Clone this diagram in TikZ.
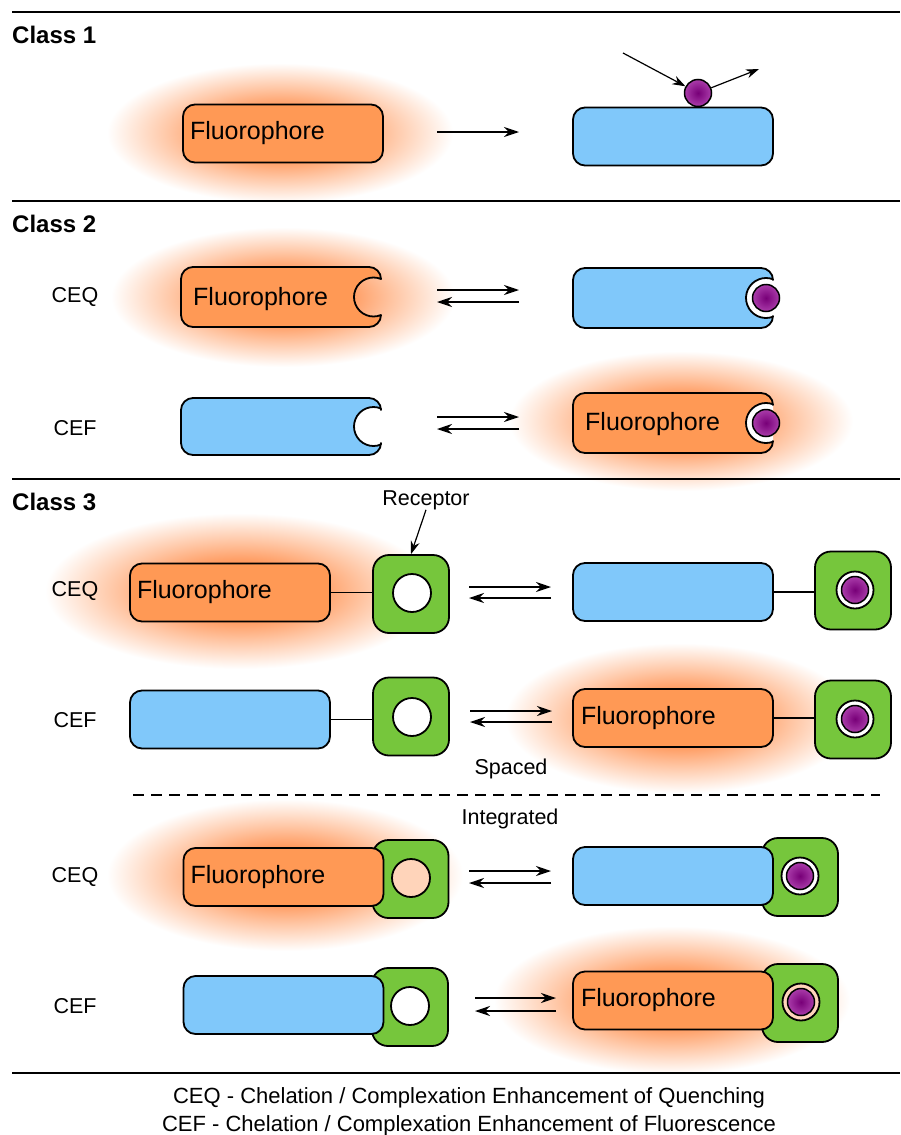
\documentclass[tikz,border=0pt]{standalone}
\usepackage{fontspec}
\setmainfont{Liberation Sans}
\usetikzlibrary{arrows.meta}
\definecolor{orbox}{RGB}{255,153,85}
\definecolor{glowc}{RGB}{255,145,80}
\definecolor{bluebox}{RGB}{128,200,250}
\definecolor{grbox}{RGB}{118,198,60}
\definecolor{iondark}{RGB}{120,0,120}
\definecolor{ionlight}{RGB}{170,60,170}
\definecolor{peach}{RGB}{255,212,186}
\pgfdeclareradialshading{glowsh}{\pgfpointorigin}{color(0bp)=(glowc); color(8bp)=(glowc); color(16bp)=(glowc!52!white); color(25bp)=(white); color(50bp)=(white)}
\pgfdeclareradialshading{ionsh}{\pgfpointorigin}{color(0bp)=(iondark); color(25bp)=(ionlight); color(50bp)=(ionlight)}
\tikzset{
  outl/.style={draw=black, line width=1.8pt},
  fluor/.style={outl, fill=orbox, rounded corners=12pt},
  quench/.style={outl, fill=bluebox, rounded corners=12pt},
  fluorp/.style={outl, fill=orbox, line join=round},
  quenchp/.style={outl, fill=bluebox, line join=round},
  bx/.style={minimum width=200pt, minimum height=58pt, text width=186pt, inner xsep=7pt, inner ysep=0pt, align=left, font=\fontsize{25}{30}\selectfont},
  recep/.style={outl, fill=grbox, rounded corners=16pt, minimum width=76pt, minimum height=78pt, inner sep=0pt},
  ion/.style={circle, draw=black, line width=1.5pt, shade, shading=ionsh, minimum size=27pt, inner sep=0pt},
  arr/.style={line width=1.3pt, -{Stealth[length=15pt,width=10pt]}},
  arrs/.style={line width=1.2pt, -{Stealth[length=13pt,width=9pt]}},
  link/.style={line width=1.6pt},
  rule/.style={line width=2pt},
  lbl/.style={font=\fontsize{21.5}{26}\selectfont, inner sep=0pt},
  ftext/.style={font=\fontsize{25}{30}\selectfont, anchor=base west, inner sep=0pt},
  title/.style={font=\bfseries\fontsize{24}{28}\selectfont, anchor=base west, inner sep=0pt},
  bottom/.style={font=\fontsize{22}{26}\selectfont, inner sep=0pt, anchor=base},
}
% notched box: #1 style, #2 x1, #3 y1, #4 x2, #5 y2, #6 notch centre x, #7 radius
\newcommand\notchbox[7]{%
  \pgfmathsetmacro\ncy{(#3+#5)/2}%
  \pgfmathsetmacro\nd{#4-#6}%
  \pgfmathsetmacro\nh{sqrt((#7)*(#7)-\nd*\nd)}%
  \pgfmathsetmacro\nth{atan(\nh/\nd)}%
  \path[#1] (#4,\ncy-\nh) -- (#4,#3+12)
     arc[start angle=0, end angle=-90, radius=12] -- (#2+12,#3)
     arc[start angle=270, end angle=180, radius=12] -- (#2,#5-12)
     arc[start angle=180, end angle=90, radius=12] -- (#4-12,#5)
     arc[start angle=90, end angle=0, radius=12] -- (#4,\ncy+\nh)
     arc[start angle=\nth, end angle=360-\nth, radius=#7] -- cycle;
}
\newcommand\whitering[6]{% #1 x1 #2 y1 #3 x2 #4 y2 #5 cx #6 r
  \begin{scope}
    \clip (#1,#2) rectangle (#3,#4);
    \fill[white] (#5,{(#2+#4)/2}) circle (#6);
  \end{scope}
}
\begin{document}
\begin{tikzpicture}[x=1pt,y=-1pt]
\useasboundingbox (0,0) rectangle (900,1135);
\fill[white] (0,0) rectangle (900,1135);

% ---------- glows ----------
\shade[shading=glowsh] (280,133) ellipse [x radius=173, y radius=70];
\shade[shading=glowsh] (283,297) ellipse [x radius=172, y radius=70];
\shade[shading=glowsh] (681,421) ellipse [x radius=172, y radius=70];
\shade[shading=glowsh] (240,591) ellipse [x radius=195, y radius=78];
\shade[shading=glowsh] (680,718) ellipse [x radius=175, y radius=75];
\shade[shading=glowsh] (285,875) ellipse [x radius=178, y radius=76];
\shade[shading=glowsh] (672,1000) ellipse [x radius=178, y radius=74];

% ---------- rules ----------
\draw[rule] (12,12) -- (900,12);
\draw[rule] (12,201) -- (900,201);
\draw[rule] (12,479) -- (900,479);
\draw[rule] (12,1073) -- (900,1073);

% ---------- Class 1 ----------
\node[title] (t1) at (12,43) {Class 1};
\node[fluor, bx] (c1f) at (283,133.5) {Fluorophore};
\node[quench, bx] (c1q) at (673,136.5) {};
\node[ion] (c1i) at (698,93) {};
\coordinate (a1s) at (437,132);
\coordinate (a1e) at (519,132);
\draw[arr] (a1s) -- (a1e);
\coordinate (c1in) at (623,53);
\coordinate (c1out) at (759,69);
\draw[arrs] (c1in) -- (c1i);
\draw[arrs] (c1i) -- (c1out);

% ---------- Class 2 ----------
\node[title] (t2) at (12,232) {Class 2};
\node[lbl] (l2q) at (75,297) {CEQ};
\node[lbl] (l2f) at (75,428) {CEF};
% CEQ
\notchbox{fluorp}{181}{267}{381}{327}{373.5}{19.5}
\node[ftext] (c2ft) at (193,305) {Fluorophore};
\whitering{573}{268}{773}{328}{766}{20}
\notchbox{quenchp}{573}{268}{773}{328}{766}{20}
\node[ion] (c2i) at (766,298) {};
\coordinate (a2a) at (437,290);
\coordinate (a2b) at (519,290);
\coordinate (a2c) at (519,302);
\coordinate (a2d) at (437,302);
\draw[arr] (a2a) -- (a2b);
\draw[arr] (a2c) -- (a2d);
% CEF
\notchbox{quenchp}{181}{398}{381}{455}{373.5}{19.5}
\whitering{573}{393}{773}{453}{766}{20}
\notchbox{fluorp}{573}{393}{773}{453}{766}{20}
\node[ftext] (c2gt) at (585,430) {Fluorophore};
\node[ion] (c2j) at (766,423) {};
\coordinate (a3a) at (437,417);
\coordinate (a3b) at (519,417);
\coordinate (a3c) at (519,429);
\coordinate (a3d) at (437,429);
\draw[arr] (a3a) -- (a3b);
\draw[arr] (a3c) -- (a3d);

% ---------- Class 3 ----------
\node[title] (t3) at (12,510) {Class 3};
\node[lbl] (rec) at (426,500) {Receptor};
\node[lbl] (l3q) at (75,591) {CEQ};
\node[lbl] (l3f) at (75,720) {CEF};
% spaced CEQ
\node[fluor, bx] (s1f) at (230,592.5) {Fluorophore};
\node[recep] (s1r) at (411,594) {};
\draw[outl, fill=white] (412,593) circle (19);
\draw[link] (s1f.east) -- (s1f.east -| s1r.west);
\draw[arrs] (rec.south) -- (s1r.north);
\coordinate (a4a) at (469,587);
\coordinate (a4b) at (551,587);
\coordinate (a4c) at (551,598);
\coordinate (a4d) at (469,598);
\draw[arr] (a4a) -- (a4b);
\draw[arr] (a4c) -- (a4d);
\node[quench, bx] (s2q) at (673,592) {};
\node[recep] (s2r) at (853,590.5) {};
\draw[link] (s2q.east) -- (s2q.east -| s2r.west);
\draw[outl, fill=white] (855,590) circle (18.5);
\node[ion] (s2i) at (855,590) {};
% spaced CEF
\node[quench, bx] (s3q) at (230,719.5) {};
\node[recep] (s3r) at (411,716.5) {};
\draw[outl, fill=white] (412,717) circle (19);
\draw[link] (s3q.east) -- (s3q.east -| s3r.west);
\coordinate (a5a) at (470,711);
\coordinate (a5b) at (552,711);
\coordinate (a5c) at (552,722);
\coordinate (a5d) at (470,722);
\draw[arr] (a5a) -- (a5b);
\draw[arr] (a5c) -- (a5d);
\node[fluor, bx, inner xsep=8pt, text width=184pt] (s4f) at (673,718) {Fluorophore};
\node[recep] (s4r) at (853,719.5) {};
\draw[link] (s4f.east) -- (s4f.east -| s4r.west);
\draw[outl, fill=white] (855,719) circle (18.5);
\node[ion] (s4i) at (855,719) {};

\node[lbl] (spc) at (511,769) {Spaced};
\draw[line width=1.5pt, dash pattern=on 11pt off 7pt] (133,795) -- (880,795);
\node[lbl] (itg) at (510,819) {Integrated};

% integrated CEQ
\node[recep] (i1r) at (410.5,879) {};
\draw[outl, fill=peach] (411,878) circle (19);
\node[fluor, bx] (i1f) at (283.5,877) {Fluorophore};
\node[lbl] (l4q) at (75,877) {CEQ};
\coordinate (a6a) at (469,871);
\coordinate (a6b) at (551,871);
\coordinate (a6c) at (551,883);
\coordinate (a6d) at (469,883);
\draw[arr] (a6a) -- (a6b);
\draw[arr] (a6c) -- (a6d);
\node[recep] (i2r) at (800,877) {};
\node[quench, bx] (i2q) at (673,876) {};
\draw[outl, fill=white] (800,876) circle (18.5);
\node[ion] (i2i) at (800,876) {};
% integrated CEF
\node[lbl] (l4f) at (75,1006) {CEF};
\node[recep] (i3r) at (410,1007) {};
\draw[outl, fill=white] (410,1006) circle (19);
\node[quench, bx] (i3q) at (283.5,1005) {};
\coordinate (a7a) at (475,998);
\coordinate (a7b) at (556,998);
\coordinate (a7c) at (556,1011);
\coordinate (a7d) at (475,1011);
\draw[arr] (a7a) -- (a7b);
\draw[arr] (a7c) -- (a7d);
\node[recep] (i4r) at (800,1003) {};
\node[fluor, bx, inner xsep=8pt, text width=184pt] (i4f) at (673,1000.5) {Fluorophore};
\draw[outl, fill=peach] (801,1002) circle (18.5);
\node[ion] (i4i) at (801,1002) {};

% ---------- legend ----------
\node[bottom] (lg1) at (469,1103) {CEQ - Chelation / Complexation Enhancement of Quenching};
\node[bottom] (lg2) at (469,1131) {CEF - Chelation / Complexation Enhancement of Fluorescence};
\end{tikzpicture}
\end{document}
